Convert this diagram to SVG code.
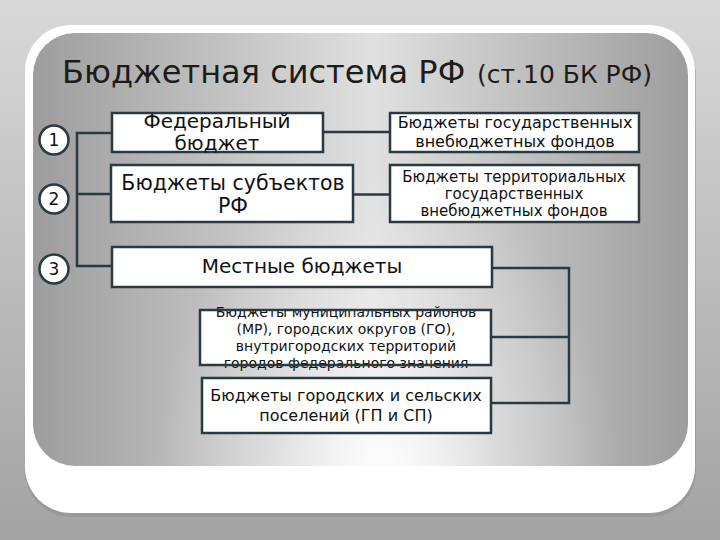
<svg xmlns="http://www.w3.org/2000/svg" width="720" height="540" viewBox="0 0 720 540">
<defs>
<linearGradient id="bg" x1="0" y1="0" x2="0" y2="1">
<stop offset="0" stop-color="#d9d9d9"/>
<stop offset="0.5" stop-color="#bdbdbd"/>
<stop offset="1" stop-color="#a3a3a3"/>
</linearGradient>
<linearGradient id="panel" gradientUnits="userSpaceOnUse" x1="33" y1="0" x2="688" y2="0">
<stop offset="0" stop-color="#9d9d9d"/>
<stop offset="0.52" stop-color="#e0e0e0"/>
<stop offset="1" stop-color="#9d9d9d"/>
</linearGradient>
<radialGradient id="glow" gradientUnits="userSpaceOnUse" cx="385" cy="470" r="230" gradientTransform="translate(385 470) scale(1 1.3) translate(-385 -470)">
<stop offset="0" stop-color="#ffffff" stop-opacity="0.95"/>
<stop offset="0.5" stop-color="#ffffff" stop-opacity="0.35"/>
<stop offset="1" stop-color="#ffffff" stop-opacity="0"/>
</radialGradient>
<style>
.box{fill:#ffffff;stroke:#2b3940;stroke-width:2.5}
.frame{fill:none;stroke:#2b3940;stroke-width:2.5}
.num{fill:#ffffff;stroke:#2b3940;stroke-width:2.5}
.con{fill:none;stroke:#2b3940;stroke-width:2.5}
.t{font-family:"DejaVu Sans","Liberation Sans",sans-serif;fill:#111111;text-anchor:middle}
.title{font-family:"DejaVu Sans","Liberation Sans",sans-serif;fill:#1c1c1c}
</style>
</defs>
<rect x="0" y="0" width="720" height="540" fill="url(#bg)"/>
<rect x="25" y="29" width="671" height="488" rx="46" fill="#8c8c8c" opacity="0.45"/>
<rect x="25" y="25" width="670" height="488" rx="46" fill="#ffffff"/>
<rect x="33" y="33" width="655" height="433" rx="42" fill="url(#panel)"/>
<rect x="33" y="33" width="655" height="433" rx="42" fill="url(#glow)"/>
<g id="title">
<text class="title" x="62" y="83" font-size="32">Бюджетная система РФ</text>
<text class="title" x="477" y="83" font-size="25">(ст.10 БК РФ)</text>
</g>
<g id="connectors">
<polyline class="con" points="111,133 77,133 77,266 111,266"/>
<line class="con" x1="77" y1="194" x2="111" y2="194"/>
<line class="con" x1="323" y1="132" x2="390" y2="132"/>
<line class="con" x1="353" y1="194.5" x2="390" y2="194.5"/>
<polyline class="con" points="492,268 569,268 569,403 491,403"/>
<line class="con" x1="491" y1="337" x2="569" y2="337"/>
</g>
<g id="n1"><circle class="num" cx="54" cy="140" r="14.5"/><text class="t" x="54" y="146" font-size="17">1</text></g>
<g id="n2"><circle class="num" cx="54" cy="199" r="14.5"/><text class="t" x="54" y="205" font-size="17">2</text></g>
<g id="n3"><circle class="num" cx="54" cy="269" r="14.5"/><text class="t" x="54" y="275" font-size="17">3</text></g>
<g id="federal">
<rect class="box" x="112" y="113" width="211" height="39"/>
<text class="t" x="217" y="128" font-size="20">Федеральный</text>
<text class="t" x="217" y="150" font-size="20">бюджет</text>
</g>
<g id="subjects">
<rect class="box" x="111" y="165" width="242" height="57"/>
<text class="t" x="233" y="190" font-size="20.5">Бюджеты субъектов</text>
<text class="t" x="233" y="213" font-size="20.5">РФ</text>
</g>
<g id="local">
<rect class="box" x="112" y="247" width="380" height="40"/>
<text class="t" x="302" y="273" font-size="20">Местные бюджеты</text>
</g>
<g id="gvf">
<rect class="box" x="390" y="113" width="249" height="39"/>
<text class="t" x="515" y="128" font-size="16">Бюджеты государственных</text>
<text class="t" x="515" y="147" font-size="16">внебюджетных фондов</text>
</g>
<g id="tgvf">
<rect class="box" x="390" y="165" width="249" height="57"/>
<text class="t" x="514" y="182" font-size="15">Бюджеты территориальных</text>
<text class="t" x="514" y="199" font-size="15">государственных</text>
<text class="t" x="514" y="216" font-size="15">внебюджетных фондов</text>
</g>
<g id="municipal">
<rect x="200" y="310" width="291" height="55" fill="#ffffff"/>
<text class="t" x="346" y="317" font-size="14">Бюджеты муниципальных районов</text>
<text class="t" x="346" y="334" font-size="14">(МР), городских округов (ГО),</text>
<text class="t" x="346" y="351" font-size="14">внутригородских территорий</text>
<text class="t" x="346" y="368" font-size="14">городов федерального значения</text>
<rect class="frame" x="200" y="310" width="291" height="55"/>
</g>
<g id="settlements">
<rect class="box" x="202" y="378" width="289" height="55"/>
<text class="t" x="346" y="401" font-size="16">Бюджеты городских и сельских</text>
<text class="t" x="346" y="421" font-size="16">поселений (ГП и СП)</text>
</g>
</svg>
